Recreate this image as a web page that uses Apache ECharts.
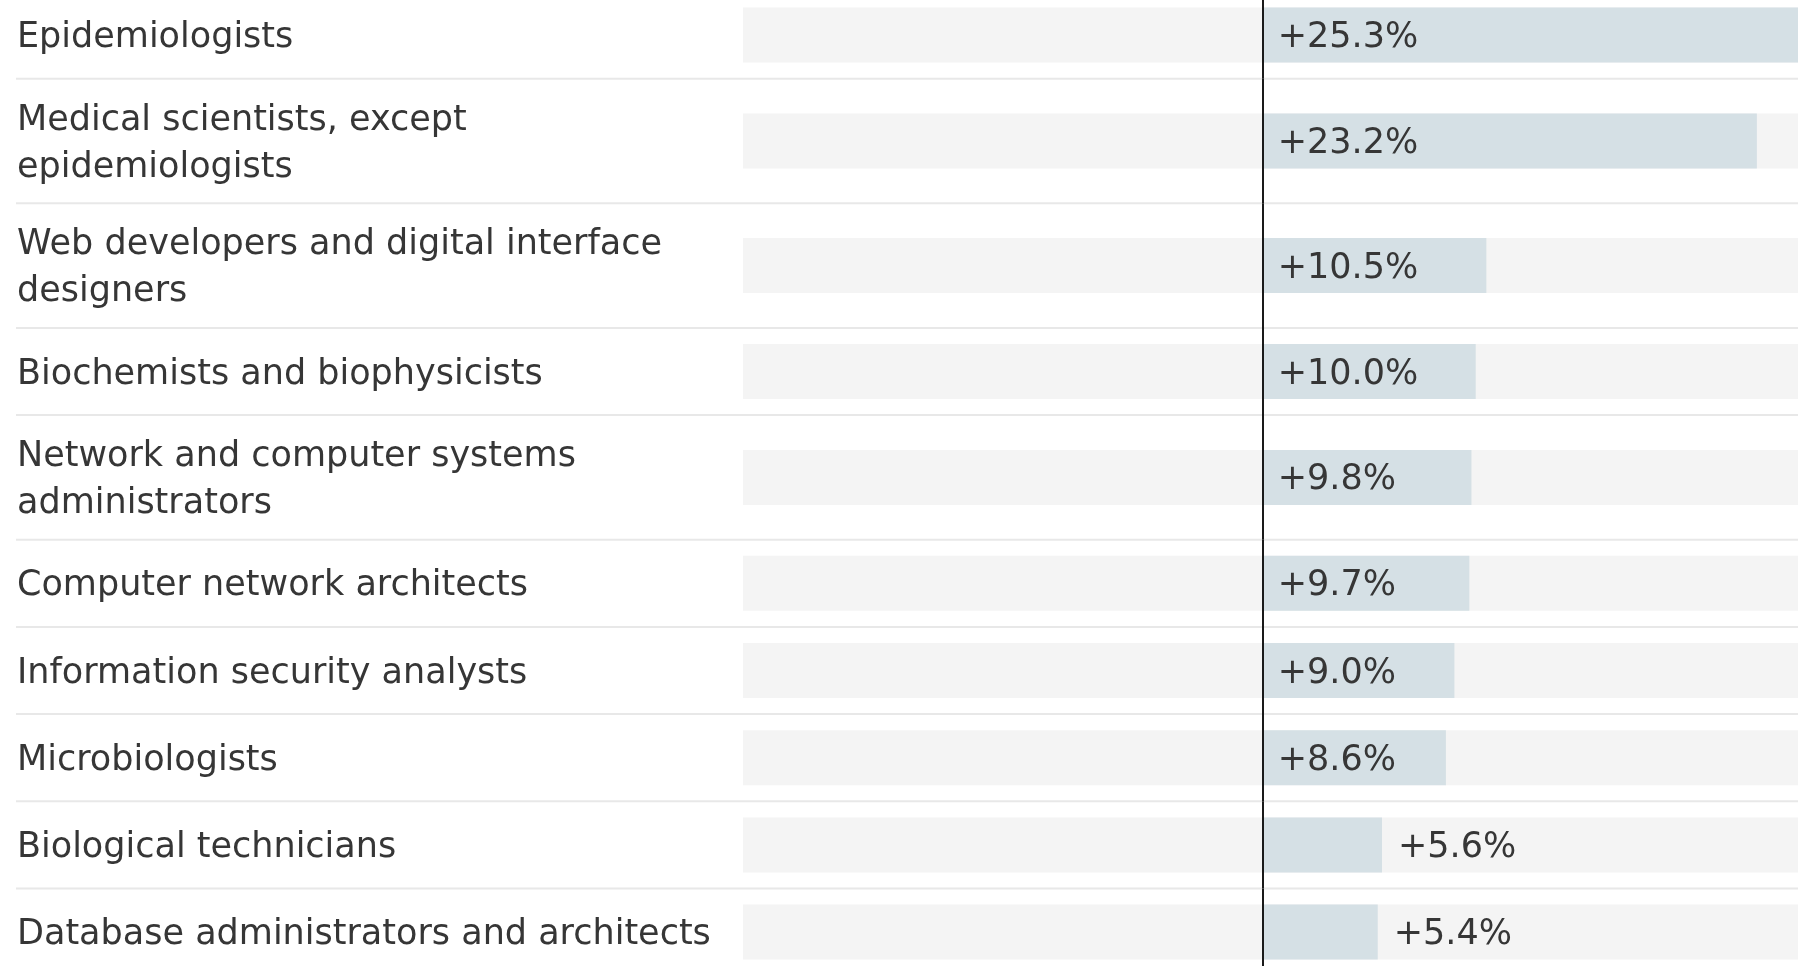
<!DOCTYPE html>
<html>
<head>
<meta charset="utf-8">
<script src="https://cdn.jsdelivr.net/npm/echarts@6/dist/echarts.min.js"></script>
<style>
  html, body { margin: 0; padding: 0; background: #ffffff; }
  #chart { width: 1798px; height: 966px; }
</style>
</head>
<body>
<div id="chart"></div>
<script>
// Occupations and their projected growth (percent)
const occupations = [
  'Epidemiologists',
  'Medical scientists, except\nepidemiologists',
  'Web developers and digital interface\ndesigners',
  'Biochemists and biophysicists',
  'Network and computer systems\nadministrators',
  'Computer network architects',
  'Information security analysts',
  'Microbiologists',
  'Biological technicians',
  'Database administrators and architects'
];
const growth = [25.3, 23.2, 10.5, 10.0, 9.8, 9.7, 9.0, 8.6, 5.6, 5.4];

// Layout
const FONT = '"DejaVu Sans", sans-serif';
const TEXT = '#363636';
const xMin = -24.4, xMax = 26;
const pxPerUnit = 21.3;
const plotLeft = 743;
const plotWidth = (xMax - xMin) * pxPerUnit;
const labelX = 17;
const rowPad = 49.8, rowLine = 37.4;
const firstTop = -8.5;

const chart = echarts.init(document.getElementById('chart'), null, { renderer: 'canvas' });

const grids = [], xAxes = [], yAxes = [], series = [], rules = [];
let rowTop = firstTop;
occupations.forEach((name, i) => {
  const lines = name.split('\n').length;
  const h = rowPad + rowLine * lines;
  grids.push({ left: plotLeft, top: rowTop, width: plotWidth, height: h,
               containLabel: false, outerBoundsMode: 'none' });
  xAxes.push({ type: 'value', gridIndex: i, min: xMin, max: xMax, show: false });
  yAxes.push({
    type: 'category', gridIndex: i, data: [name],
    axisLine: { show: false }, axisTick: { show: false }, splitLine: { show: false },
    axisLabel: {
      show: true, align: 'left', margin: plotLeft - labelX,
      // a thin spacer line above the name nudges the block down a little
      formatter: val => '{gap|\u200b}\n' + val.split('\n').map(s => '{name|' + s + '}').join('\n'),
      rich: {
        gap: { fontSize: 1, lineHeight: 6, height: 6 },
        name: { fontFamily: FONT, fontSize: 35, lineHeight: 47, color: TEXT }
      },
      fontFamily: FONT, fontSize: 35, lineHeight: 47, color: TEXT
    }
  });
  const v = growth[i];
  const inside = v > 7;
  series.push({
    type: 'bar', xAxisIndex: i, yAxisIndex: i,
    data: [v], barWidth: 55,
    showBackground: true,
    backgroundStyle: { color: '#f4f4f4' },
    itemStyle: { color: '#d5e0e5' },
    label: {
      show: true,
      position: inside ? 'insideLeft' : 'right',
      distance: inside ? 15 : 16,
      offset: [0, 3],
      formatter: p => '+' + p.value.toFixed(1) + '%',
      fontFamily: FONT, fontSize: 35, color: TEXT
    },
    markLine: {
      silent: true, symbol: ['none', 'none'],
      label: { show: false },
      lineStyle: { color: '#1a1a1a', width: 2, type: 'solid' },
      data: [{ xAxis: 0 }]
    },
    animation: false
  });
  rowTop += h;
  if (i < occupations.length - 1) {
    rules.push({
      type: 'line', z: 0,
      shape: { x1: 16, y1: rowTop, x2: 1798, y2: rowTop },
      style: { stroke: '#e8e8e8', lineWidth: 2 }
    });
  }
});

chart.setOption({
  animation: false,
  backgroundColor: '#ffffff',
  grid: grids,
  xAxis: xAxes,
  yAxis: yAxes,
  series: series,
  graphic: rules
});
</script>
</body>
</html>
